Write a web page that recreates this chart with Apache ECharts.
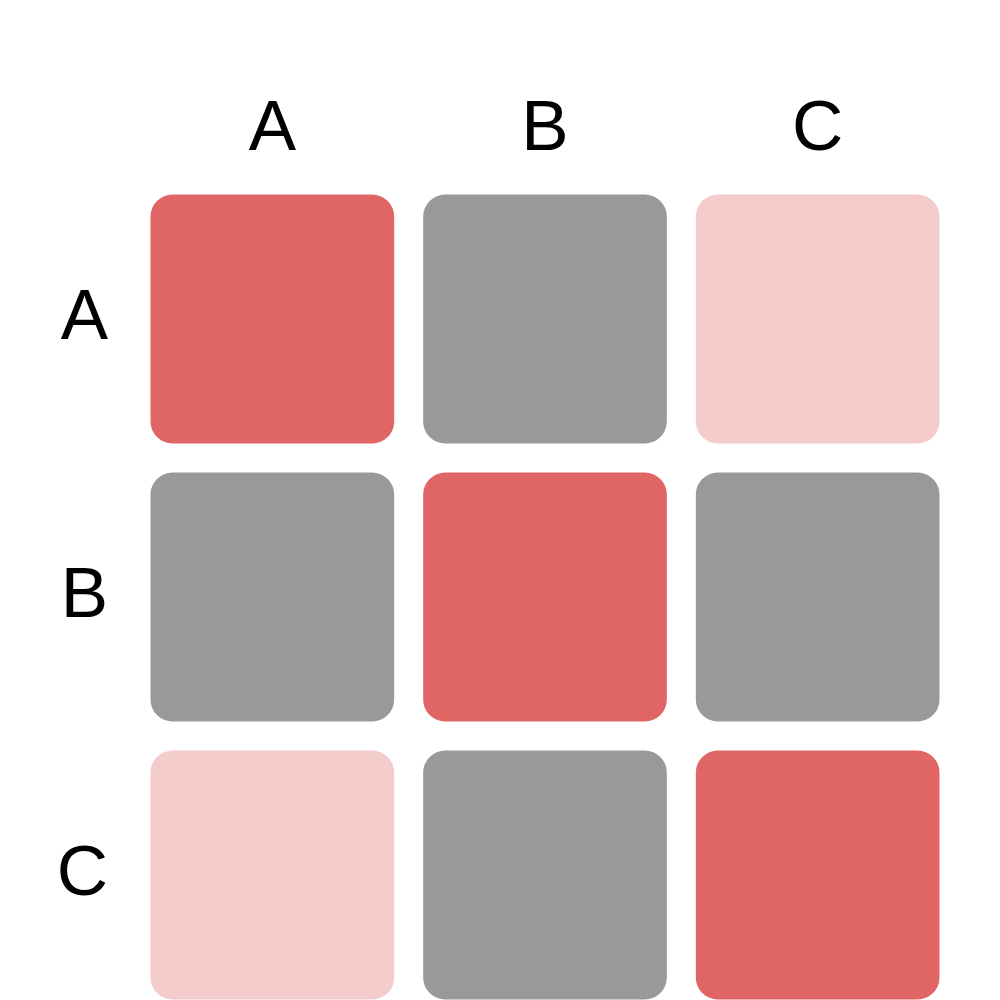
<!DOCTYPE html>
<html>
<head>
<meta charset="utf-8">
<script src="https://cdn.jsdelivr.net/npm/echarts@6/dist/echarts.min.js"></script>
<style>html,body{margin:0;padding:0;background:#fff}#c{width:1000px;height:1000px}</style>
</head>
<body>
<div id="c"></div>
<script>
var xCategories = ['A', 'B', 'C'];
var yCategories = ['A', 'B', 'C'];
// [xIndex, yIndex, value]
var cellValues = [
  [0, 0, 1], [1, 0, 0], [2, 0, 0.5],
  [0, 1, 0], [1, 1, 1], [2, 1, 0],
  [0, 2, 0.5], [1, 2, 0], [2, 2, 1]
];

var chart = echarts.init(document.getElementById('c'), null, {renderer: 'canvas'});
var GAP = 29;
chart.setOption({
  animation: false,
  backgroundColor: '#ffffff',
  grid: {left: 136, width: 818, top: 180, height: 834, containLabel: false, outerBoundsMode: 'none'},
  xAxis: {
    type: 'category', data: xCategories, position: 'top',
    axisLine: {show: false}, axisTick: {show: false}, splitLine: {show: false},
    axisLabel: {fontSize: 71, color: '#000', fontFamily: 'Liberation Sans, Arial, sans-serif', margin: 14}
  },
  yAxis: {
    type: 'category', data: yCategories, inverse: true,
    axisLine: {show: false}, axisTick: {show: false}, splitLine: {show: false},
    axisLabel: {fontSize: 71, color: '#000', fontFamily: 'Liberation Sans, Arial, sans-serif', margin: 28}
  },
  visualMap: {
    show: false, type: 'piecewise', dimension: 2,
    pieces: [
      {value: 1, color: '#e06666'},
      {value: 0.5, color: '#f4cccc'},
      {value: 0, color: '#999999'}
    ]
  },
  series: [{
    type: 'custom',
    data: cellValues,
    encode: {x: 0, y: 1},
    renderItem: function (params, api) {
      var c = api.coord([api.value(0), api.value(1)]);
      var s = api.size([1, 1]);
      var w = s[0] - GAP, h = s[1] - GAP;
      return {
        type: 'rect',
        shape: {x: c[0] - w / 2, y: c[1] - h / 2, width: w, height: h, r: 22},
        style: {fill: api.visual('color')}
      };
    }
  }]
});
</script>
</body>
</html>
